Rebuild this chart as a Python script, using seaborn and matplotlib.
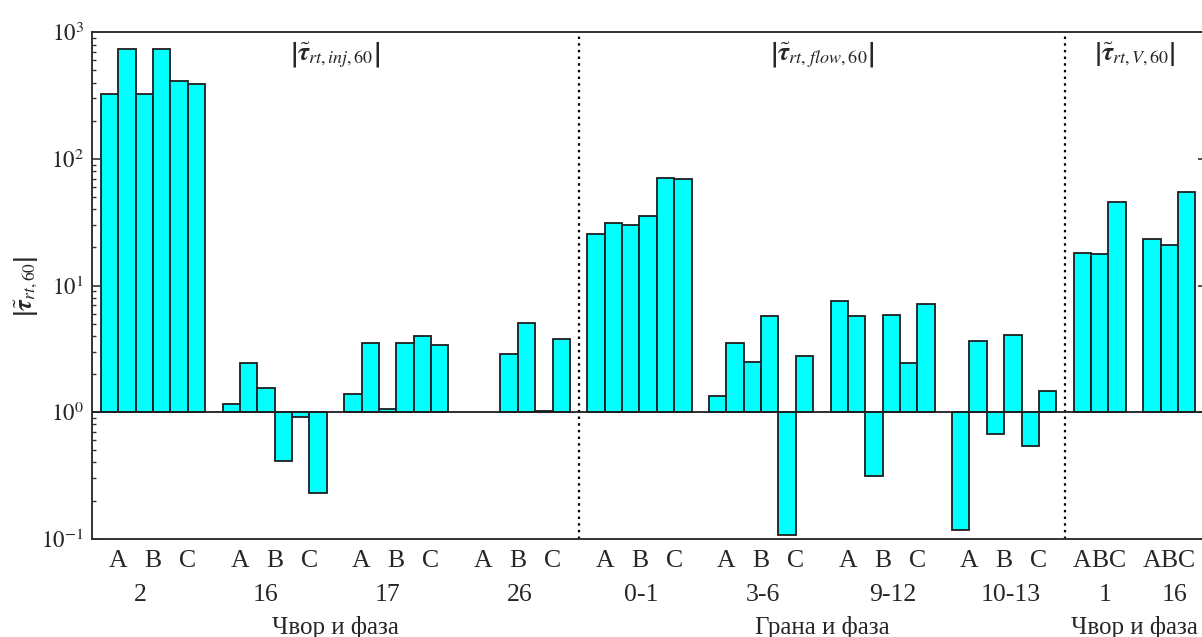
import numpy as np
import pandas as pd
import matplotlib
matplotlib.use("Agg")
import matplotlib.pyplot as plt
import seaborn as sns
from matplotlib.ticker import FixedLocator, FixedFormatter
import matplotlib.transforms as mtransforms

# ---------------- data (|tau_rt,60| values) ----------------
phases = ["A", "B", "C"]

# injection section (nodes), two bars per phase
inj_labels = ["2", "16", "17", "26"]
inj_node_2 = [324, 742, 324, 742, 415, 387]
inj_node_16 = [1.15, 2.45, 1.56, 0.413, 0.92, 0.231]
inj_node_17 = [1.38, 3.50, 1.05, 3.49, 3.99, 3.37]
inj_node_26 = [np.nan, np.nan, 2.89, 5.06, 1.026, 3.78]

# flow section (branches), two bars per phase
flow_labels = ["0-1", "3-6", "9-12", "10-13"]
flow_0_1 = [25.4, 31.0, 29.9, 35.6, 70.3, 69.4]
flow_3_6 = [1.34, 3.51, 2.49, 5.71, 0.106, 2.79]
flow_9_12 = [7.59, 5.74, 0.313, 5.82, 2.46, 7.14]
flow_10_13 = [0.117, 3.66, 0.671, 4.06, 0.543, 1.46]

# voltage section (nodes), one bar per phase
v_labels = ["1", "16"]
v_node_1 = [17.9, 17.6, 45.9]
v_node_16 = [23.3, 20.9, 55.1]

section_titles = [r"$\left|\tilde{\boldsymbol{\tau}}_{rt,inj,60}\right|$",
                  r"$\left|\tilde{\boldsymbol{\tau}}_{rt,\,flow,60}\right|$",
                  r"$\left|\tilde{\boldsymbol{\tau}}_{rt,V,60}\right|$"]
axis_titles = ["Чвор и фаза", "Грана и фаза", "Чвор и фаза"]
ylabel = r"$\left|\tilde{\boldsymbol{\tau}}_{rt,60}\right|$"

# ---------------- layout of slots ----------------
sections = [
    (inj_labels, [inj_node_2, inj_node_16, inj_node_17, inj_node_26], 1, 7),
    (flow_labels, [flow_0_1, flow_3_6, flow_9_12, flow_10_13], 29, 7),
    (v_labels, [v_node_1, v_node_16], 57, 4),
]
rows = []
phase_pos, phase_txt, grp_txt = [], [], []
for labels, groups, start, step in sections:
    for g, (lab, vals) in enumerate(zip(labels, groups)):
        g0 = start + step * g
        n = len(vals)
        per = n // 3
        for j, v in enumerate(vals):
            rows.append({"pos": g0 + j, "value": v})
        for k, ph in enumerate(phases):
            phase_pos.append(g0 + k * per + (per - 1) / 2)
            phase_txt.append(ph)
        grp_txt.append(lab)
df = pd.DataFrame(rows).dropna()
df["logv"] = np.log10(df["value"])

# label x positions for the group names (as placed in the original)
grp_label_x = [2.75, 10.0, 17.0, 24.6, 31.6, 38.6, 46.1, 52.9, 58.3, 62.3]
sep_x = [28, 56]
section_centers = [14, 42, 60]

# ---------------- styling ----------------
sns.set_style("ticks")
plt.rcParams["font.family"] = ["Liberation Serif", "DejaVu Serif"]
plt.rcParams["mathtext.fontset"] = "stix"

fig = plt.figure(figsize=(12.02, 6.37), dpi=100)
W, H = 1202, 637
SLOT = 17.37
XMAX = 64.1
ax = fig.add_axes([92.3 / W, (H - 538.7) / H, XMAX * SLOT / W, (538.7 - 32.3) / H])

sns.barplot(data=df, x="pos", y="logv", native_scale=True, width=1.0,
            color="#00FFFF", saturation=1, edgecolor="#1e1e1e", linewidth=1.3,
            errorbar=None, ax=ax, zorder=3)

ax.axhline(0, color="#1e1e1e", lw=1.3, zorder=4)
for xs in sep_x:
    ax.axvline(xs, color="black", lw=1.6, ls=(0, (1.1, 1.9)), zorder=2)

ax.set_xlim(0, XMAX)
ax.set_ylim(-1, 3)
ax.set_xticks([])
ax.set_xlabel("")

majors = [-1, 0, 1, 2, 3]
ax.yaxis.set_major_locator(FixedLocator(majors))
ax.yaxis.set_major_formatter(FixedFormatter([r"$10^{%d}$" % k for k in majors]))
minors = [k + np.log10(m) for k in range(-1, 3) for m in range(2, 10)]
ax.yaxis.set_minor_locator(FixedLocator(minors))
ax.tick_params(axis="y", which="major", direction="in", length=5.5, width=1.2,
               labelsize=16.5, right=True, pad=6, color="#333333")
ax.tick_params(axis="y", which="minor", direction="in", length=3.2, width=1.0,
               left=True, right=False, color="#333333")
ax.set_ylabel("")

for s in ["left", "top", "bottom", "right"]:
    ax.spines[s].set_visible(True)
    ax.spines[s].set_color("#333333")
    ax.spines[s].set_linewidth(1.4)

trans = mtransforms.blended_transform_factory(ax.transData, ax.transAxes)
for x, t in zip(phase_pos, phase_txt):
    ax.text(x, -0.044, t, transform=trans, ha="center", va="center", fontsize=18.5)
for x, t in zip(grp_label_x, grp_txt):
    ax.text(x, -0.112, t, transform=trans, ha="center", va="center", fontsize=18.5)
for x, t in zip(section_centers, axis_titles):
    ax.text(x, -0.176, t, transform=trans, ha="center", va="center", fontsize=18)
for x, t in zip(section_centers, section_titles):
    ax.text(x, 0.955, t, transform=trans, ha="center", va="center", fontsize=18.5)

fig.text(27 / W, 1 - 286 / H, ylabel, rotation=90, ha="center", va="center", fontsize=18)

fig.savefig("out.png", dpi=100)
